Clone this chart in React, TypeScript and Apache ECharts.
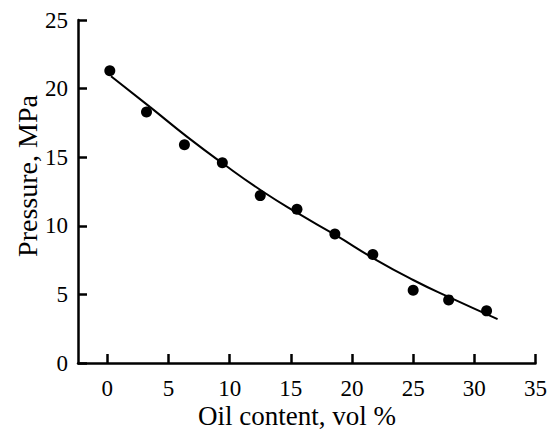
import React, { useEffect, useRef } from "react";
import * as echarts from "echarts";

const pointX = [0.2, 3.2, 6.3, 9.4, 12.5, 15.5, 18.6, 21.7, 25.0, 27.9, 31.0];
const pointY = [21.3, 18.3, 15.9, 14.6, 12.2, 11.2, 9.4, 7.9, 5.3, 4.6, 3.8];

const curveX = [0.3, 3.5, 6.5, 9.5, 12.7, 15.6, 18.6, 22.0, 25.0, 27.8, 31.9];
const curveY = [20.9, 18.65, 16.5, 14.5, 12.5, 10.9, 9.35, 7.5, 6.05, 4.85, 3.2];

const xTicks = [0, 5, 10, 15, 20, 25, 30, 35];
const yTicks = [0, 5, 10, 15, 20, 25];

const xTitle = "Oil content, vol %";
const yTitle = "Pressure, MPa";

const FONT = '"Liberation Serif", "Times New Roman", serif';

export default function App() {
  const ref = useRef<HTMLDivElement>(null);
  useEffect(() => {
    if (!ref.current) return;
    const chart = echarts.init(ref.current, null, { renderer: "svg" });
    chart.setOption({
      animation: false,
      backgroundColor: "#fff",
      grid: { left: 78, right: 13, top: 20, bottom: 67, containLabel: false },
      xAxis: {
        type: "value",
        min: -2.4,
        max: 35,
        splitLine: { show: false },
        axisLine: { show: true, onZero: false, lineStyle: { color: "#000", width: 2.5 } },
        axisTick: { show: true, inside: true, length: 9, customValues: xTicks, lineStyle: { color: "#000", width: 2.5 } },
        axisLabel: { customValues: xTicks, margin: 16, color: "#000", fontSize: 23, lineHeight: 18, fontFamily: FONT },
      },
      yAxis: {
        type: "value",
        min: 0,
        max: 25,
        interval: 5,
        splitLine: { show: false },
        axisLine: { show: true, onZero: false, lineStyle: { color: "#000", width: 2.5 } },
        axisTick: { show: true, inside: true, length: 9, customValues: yTicks, lineStyle: { color: "#000", width: 2.5 } },
        axisLabel: { margin: 10, color: "#000", fontSize: 23, fontFamily: FONT },
      },
      graphic: [
        {
          type: "text",
          x: 297,
          y: 416,
          style: {
            text: xTitle,
            font: `27px ${FONT}`,
            fill: "#000",
            align: "center",
            verticalAlign: "middle",
          },
        },
        {
          type: "text",
          x: 27,
          y: 176,
          rotation: Math.PI / 2,
          style: {
            text: yTitle,
            font: `28px ${FONT}`,
            fill: "#000",
            align: "center",
            verticalAlign: "middle",
          },
        },
      ],
      series: [
        {
          type: "line",
          data: curveX.map((x, i) => [x, curveY[i]]),
          smooth: true,
          showSymbol: false,
          lineStyle: { color: "#000", width: 2 },
          silent: true,
        },
        {
          type: "scatter",
          data: pointX.map((x, i) => [x, pointY[i]]),
          symbol: "circle",
          symbolSize: 11,
          itemStyle: { color: "#000", opacity: 1 },
        },
      ],
    });
    return () => chart.dispose();
  }, []);
  return (
    <div
      ref={ref}
      style={{ position: "absolute", left: 0, top: 0, width: 550, height: 430, overflow: "hidden" }}
    />
  );
}
